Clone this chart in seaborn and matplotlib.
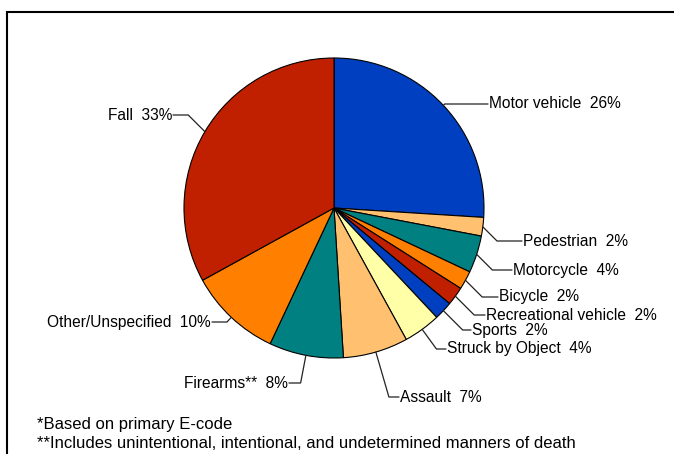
import numpy as np
import matplotlib
matplotlib.use("Agg")
import matplotlib.pyplot as plt
import matplotlib.patches as mpatches
import seaborn as sns

# data (clockwise from 12 o'clock)
categories = ["Motor vehicle", "Pedestrian", "Motorcycle", "Bicycle", "Recreational vehicle",
              "Sports", "Struck by Object", "Assault", "Firearms**", "Other/Unspecified", "Fall"]
percents = [26, 2, 4, 2, 2, 2, 4, 7, 8, 10, 33]
colors = ["#0040C0", "#FFC070", "#008080", "#FF8000", "#C02000",
          "#0040C0", "#FFFFA8", "#FFC070", "#008080", "#FF8000", "#C02000"]
footnotes = ["*Based on primary E-code",
             "**Includes unintentional, intentional, and undetermined manners of death"]

# layout (pixel positions, y measured from top)
W, H = 674, 454
cx, cy, R = 334, 208, 150
label_pos = [(489, 104, "left"), (523, 241, "left"), (513, 270, "left"), (499, 297, "left"),
             (486, 315, "left"), (472, 330, "left"), (447, 349, "left"), (400, 397, "left"),
             (288, 383, "right"), (211, 322, "right"), (172, 115, "right")]

sns.set_theme(style="white")
plt.rcParams["font.family"] = ["Liberation Sans", "DejaVu Sans"]

fig = plt.figure(figsize=(W / 100, H / 100), dpi=100)
ax = fig.add_axes([0, 0, 1, 1])

ax.pie(percents, colors=colors, startangle=90, counterclock=False,
       center=(cx, H - cy), radius=R,
       wedgeprops=dict(edgecolor="black", linewidth=0.8))
ax.set_xlim(0, W)
ax.set_ylim(0, H)
ax.set_aspect("auto")
ax.axis("off")

# leader lines and labels
cum = np.cumsum([0] + percents[:-1])
for name, p, start, (tx, ty, ha) in zip(categories, percents, cum, label_pos):
    ang = np.deg2rad((start + p / 2) / 100 * 360)
    dx, dy = np.sin(ang), np.cos(ang)
    px, py = cx + R * dx, cy - R * dy
    ddy = ty - py
    if abs(dy) > 1e-6 and abs(ddy) > 0.5:
        ex = dx * abs(ddy / dy)
        ex = np.sign(ex) * min(abs(ex), abs(ddy))
    else:
        ex = 0
    endx = tx - 1 if ha == "left" else tx + 1
    ax.plot([px, px + ex, endx], [H - py, H - ty, H - ty], color="#222222", lw=0.9,
            solid_joinstyle="miter")
    ax.text(tx, H - ty, f"{name}  {p}%", ha=ha, va="center", fontsize=11.2, color="black")

for i, note in enumerate(footnotes):
    ax.text(37, H - (424 + 19 * i), note, ha="left", va="center", fontsize=12, color="black")

frame = mpatches.Rectangle((6.5, -20), W + 20, H - 11.5 + 20, fill=False,
                           edgecolor="black", linewidth=1.5, clip_on=False)
ax.add_patch(frame)

fig.savefig("out.png", dpi=100, facecolor="white")
